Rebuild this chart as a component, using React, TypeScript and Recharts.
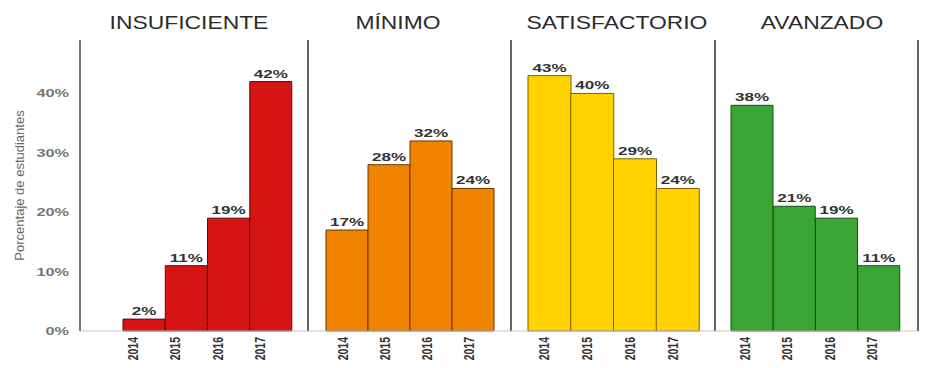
import { BarChart, Bar, XAxis, YAxis, LabelList } from "recharts";

const years = ["2014", "2015", "2016", "2017"];
const levels = ["INSUFICIENTE", "MÍNIMO", "SATISFACTORIO", "AVANZADO"];
const insuficiente = [2, 11, 19, 42];
const minimo = [17, 28, 32, 24];
const satisfactorio = [43, 40, 29, 24];
const avanzado = [38, 21, 19, 11];
const yTicks = [0, 10, 20, 30, 40];

const FONT = "'Liberation Sans', Arial, sans-serif";
// the source picture is stretched sideways, so text gets a horizontal scale
const STRETCH = 1.55;

// layout of each facet panel (left edge, chart width, bar padding, label nudge, title centre)
const panels = [
  { values: insuficiente, fill: "#d61414", stroke: "#5c0a0a", left: 0, width: 309, pad: { left: 43, right: 16 }, nudge: -11, titleX: 189 },
  { values: minimo, fill: "#f08300", stroke: "#6a3600", left: 308, width: 204, pad: { left: 18, right: 17 }, nudge: -4, titleX: 398 },
  { values: satisfactorio, fill: "#ffd200", stroke: "#7a6200", left: 511, width: 205, pad: { left: 17, right: 16 }, nudge: -5, titleX: 617 },
  { values: avanzado, fill: "#3aa535", stroke: "#1d4d18", left: 715, width: 204, pad: { left: 16, right: 18 }, nudge: -7, titleX: 822 },
];

const YTick = ({ x, y, payload }: any) => (
  <text
    transform={`translate(${x - 3},${y}) scale(${STRETCH},1)`}
    dy={4}
    textAnchor="end"
    fill="#777"
    fontSize={10.5}
    fontWeight="bold"
    fontFamily={FONT}
  >
    {payload.value}%
  </text>
);

const makeXTick = (nudge: number) => ({ x, y, payload }: any) => (
  <text
    transform={`translate(${x + nudge},${y - 2}) rotate(-90) scale(1,1.35)`}
    textAnchor="end"
    dy="0.35em"
    fill="#333"
    fontSize={10.5}
    fontWeight="bold"
    fontFamily={FONT}
  >
    {payload.value}
  </text>
);

const ValueLabel = ({ x, y, width, value }: any) => (
  <text
    transform={`translate(${x + width / 2},${y - 4}) scale(${STRETCH},1)`}
    textAnchor="middle"
    fill="#333"
    fontSize={11}
    fontWeight="bold"
    fontFamily={FONT}
  >
    {value}%
  </text>
);

const Panel = ({ idx }: { idx: number }) => {
  const p = panels[idx];
  const data = years.map((year, i) => ({ year, value: p.values[i] }));
  const first = idx === 0;
  return (
    <div style={{ position: "absolute", left: p.left, top: 0 }}>
      <BarChart
        width={p.width}
        height={368}
        data={data}
        margin={{ top: 40, right: 0, bottom: 0, left: 0 }}
        barCategoryGap={0}
        barGap={0}
      >
        <XAxis
          dataKey="year"
          interval={0}
          height={37}
          padding={p.pad}
          tickLine={false}
          axisLine={{ stroke: "#c8c8c8" }}
          tick={makeXTick(p.nudge)}
        />
        <YAxis
          yAxisId="l"
          domain={[0, 49]}
          ticks={yTicks}
          hide={!first}
          width={80}
          tickLine={false}
          axisLine={{ stroke: "#777", strokeWidth: 2 }}
          tick={YTick}
          label={{
            value: "Porcentaje de estudiantes",
            angle: -90,
            position: "insideLeft",
            offset: 19,
            style: { textAnchor: "middle", fill: "#666", fontSize: 13, fontFamily: FONT },
          }}
        />
        <YAxis
          yAxisId="r"
          orientation="right"
          domain={[0, 49]}
          width={1}
          tick={false}
          tickLine={false}
          axisLine={{ stroke: "#666", strokeWidth: 2 }}
        />
        <Bar
          yAxisId="l"
          dataKey="value"
          fill={p.fill}
          stroke={p.stroke}
          strokeWidth={1}
          isAnimationActive={false}
        >
          <LabelList dataKey="value" content={ValueLabel} />
        </Bar>
      </BarChart>
      <div
        style={{
          position: "absolute",
          left: p.titleX - p.left - 110,
          width: 220,
          top: 13,
          lineHeight: "20px",
          textAlign: "center",
          fontFamily: FONT,
          fontSize: 18,
          color: "#2b2b2b",
          whiteSpace: "nowrap",
          transform: "scaleX(1.27)",
        }}
      >
        {levels[idx]}
      </div>
    </div>
  );
};

export default function App() {
  return (
    <div
      style={{
        position: "absolute",
        left: 0,
        top: 0,
        width: 928,
        height: 368,
        background: "#fff",
        overflow: "hidden",
      }}
    >
      {panels.map((_, i) => (
        <Panel key={i} idx={i} />
      ))}
    </div>
  );
}
